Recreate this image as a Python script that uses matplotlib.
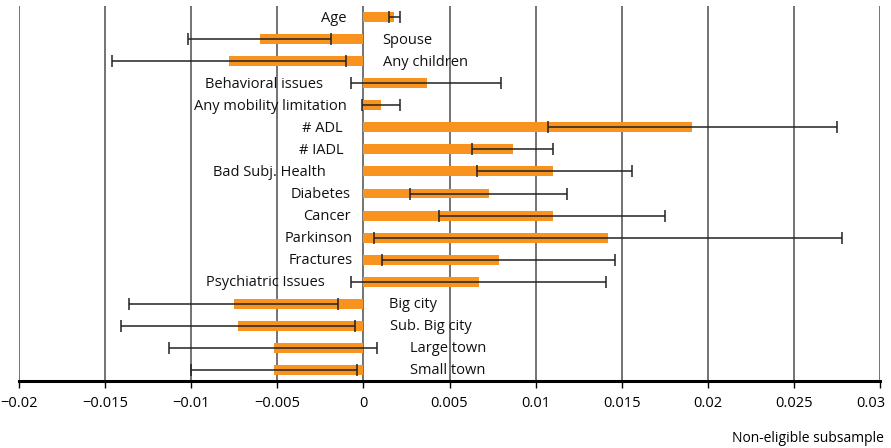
import matplotlib
matplotlib.use("Agg")
import matplotlib.pyplot as plt
import matplotlib.transforms as mtransforms
import numpy as np

plt.rcParams['font.family'] = ['Open Sans', 'DejaVu Sans']

# data
labels = ['Age', 'Spouse', 'Any children', 'Behavioral issues', 'Any mobility limitation',
          '# ADL', '# IADL', 'Bad Subj. Health', 'Diabetes', 'Cancer', 'Parkinson',
          'Fractures', 'Psychiatric Issues', 'Big city', 'Sub. Big city', 'Large town',
          'Small town']
coef = [0.0018, -0.0060, -0.0078, 0.0037, 0.0010, 0.0191, 0.0087, 0.0110, 0.0073,
        0.0110, 0.0142, 0.0079, 0.0067, -0.0075, -0.0073, -0.0052, -0.0052]
ci_low = [0.0015, -0.0102, -0.0146, -0.0007, -0.0001, 0.0107, 0.0063, 0.0066, 0.0027,
          0.0044, 0.0006, 0.0011, -0.0007, -0.0136, -0.0141, -0.0113, -0.0100]
ci_high = [0.0021, -0.0019, -0.0010, 0.0080, 0.0021, 0.0275, 0.0110, 0.0156, 0.0118,
           0.0175, 0.0278, 0.0146, 0.0141, -0.0015, -0.0005, 0.0008, -0.0004]
xticks = [-0.02, -0.015, -0.01, -0.005, 0, 0.005, 0.01, 0.015, 0.02, 0.025, 0.03]

# label shift away from the zero line, in pixels (layout only)
label_gap = [17, 19, 20, 40, 17, 21, 20, 38, 13, 13, 11, 11, 39, 26, 27, 47, 47]

coef = np.array(coef)
lo = np.array(ci_low)
hi = np.array(ci_high)
y = np.arange(len(labels))

fig = plt.figure(figsize=(8.91, 4.48), dpi=100)
ax = fig.add_axes([19 / 891, 67 / 448, 861 / 891, 375 / 448])

for t in xticks:
    ax.axvline(t, color='#4d4d4d', lw=1.1, zorder=0)

ax.barh(y, coef, height=0.45, color='#F7931E', zorder=2)
ax.errorbar(coef, y, xerr=[coef - lo, hi - coef], fmt='none', ecolor='#222222',
            elinewidth=1.1, capsize=4, capthick=1.1, zorder=3)

for i, (lab, v) in enumerate(zip(labels, coef)):
    if v >= 0:
        tr = ax.transData + mtransforms.ScaledTranslation(-label_gap[i] / 100, -1 / 100, fig.dpi_scale_trans)
        ax.text(0, i, lab, ha='right', va='center', fontsize=10.5, color='#111111', transform=tr)
    else:
        tr = ax.transData + mtransforms.ScaledTranslation(label_gap[i] / 100, -1 / 100, fig.dpi_scale_trans)
        ax.text(0, i, lab, ha='left', va='center', fontsize=10.5, color='#111111', transform=tr)

ax.set_xlim(-0.02, 0.03)
ax.set_ylim(len(labels) - 0.5, -0.5)
ax.set_xticks(xticks)
ax.set_xticklabels(['%g' % t if t >= 0 else '\u2212%g' % -t for t in xticks])
ax.tick_params(axis='x', length=5, width=1, direction='out', labelsize=10.5, pad=6)
ax.set_yticks([])
for s in ['top', 'right', 'left']:
    ax.spines[s].set_visible(False)
ax.spines['bottom'].set_linewidth(2.2)

# keep the last tick label inside the figure
last = ax.get_xticklabels()[-1]
last.set_transform(last.get_transform() + mtransforms.ScaledTranslation(-9 / 100, 0, fig.dpi_scale_trans))

fig.text(884 / 891, 10 / 448, 'Non-eligible subsample', ha='right', va='center', fontsize=10)

fig.savefig('out.png', dpi=100)
